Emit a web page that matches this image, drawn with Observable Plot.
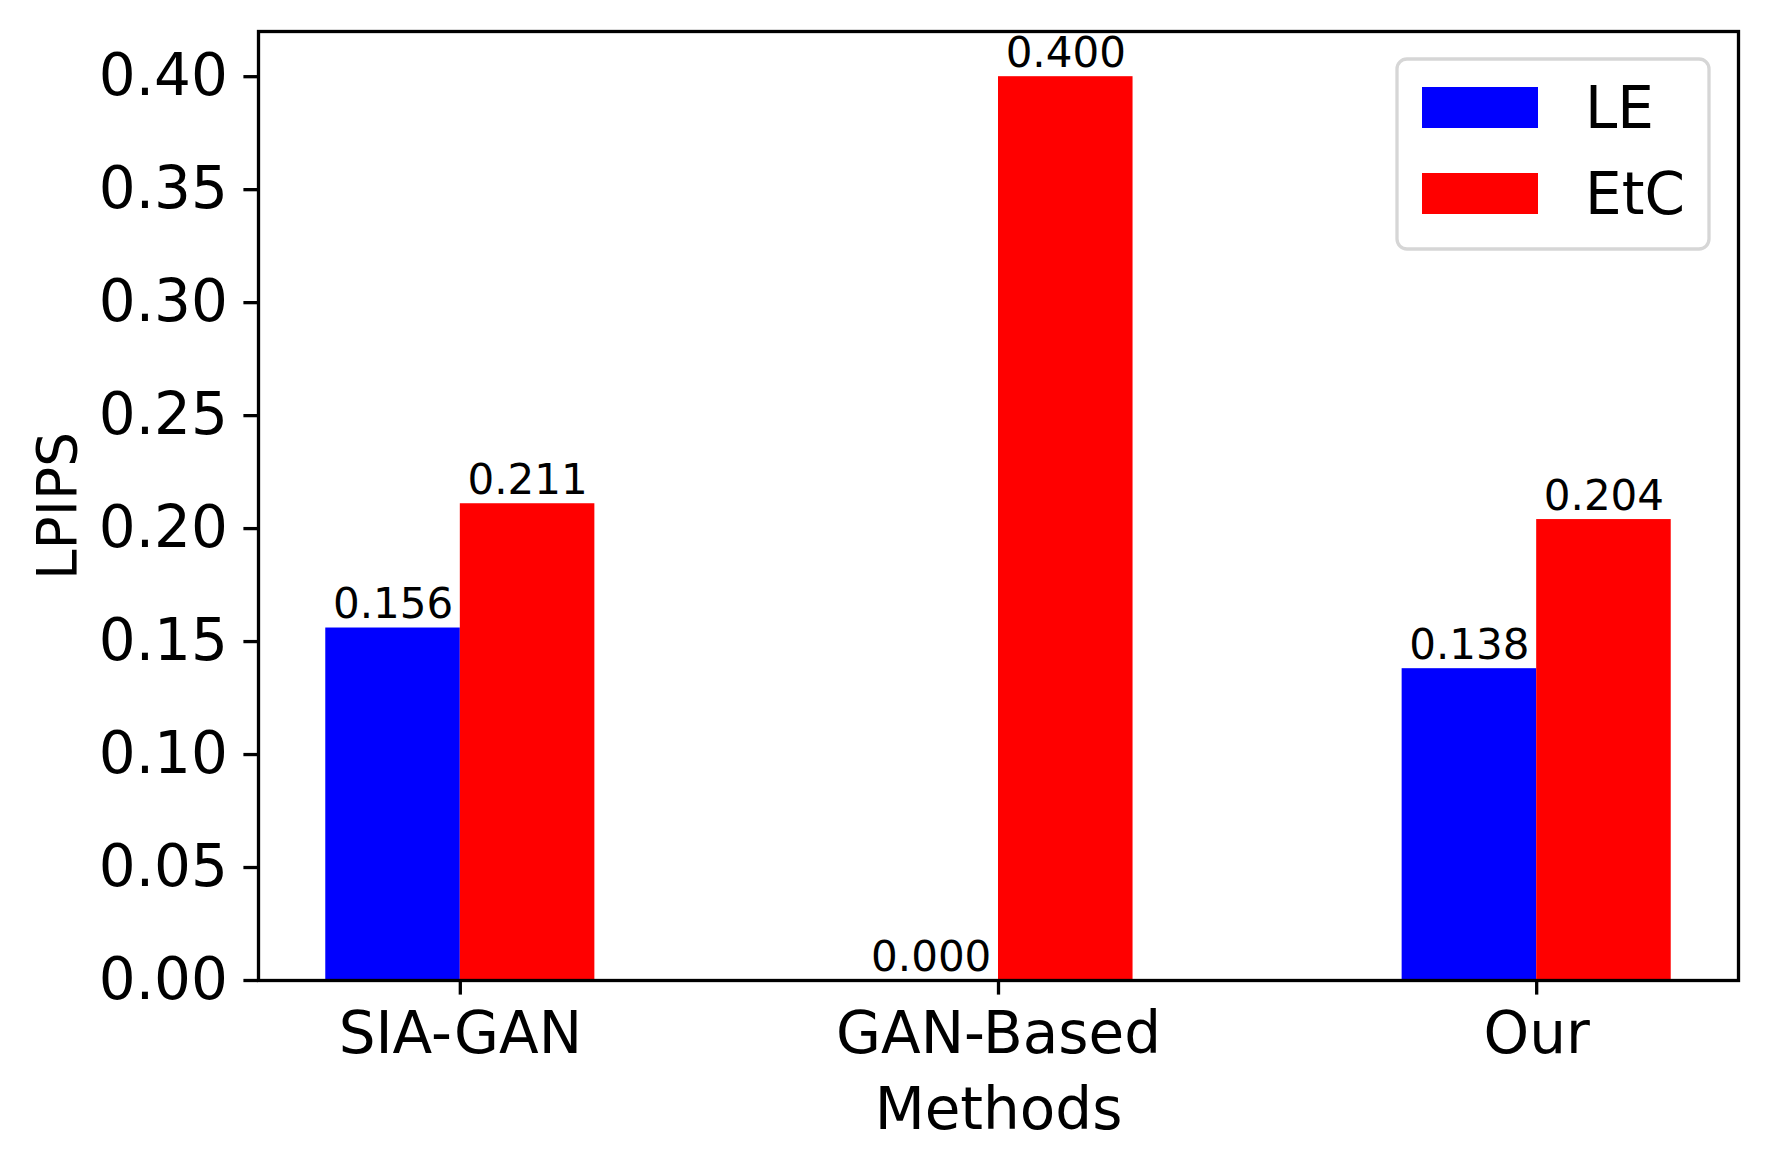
<!DOCTYPE html>
<html>
<head>
<meta charset="utf-8">
<script src="https://cdn.jsdelivr.net/npm/d3@7"></script>
<script src="https://cdn.jsdelivr.net/npm/@observablehq/plot@0.6"></script>
<style>
  html, body { margin: 0; padding: 0; background: #ffffff; }
  #chart { width: 1767px; height: 1170px; }
</style>
</head>
<body>
<div id="chart"></div>
<script>
// ---- data ----
const methods = ["SIA-GAN", "GAN-Based", "Our"];
const seriesNames = ["LE", "EtC"];
const leValues = [0.156, 0.000, 0.138];
const etcValues = [0.211, 0.400, 0.204];
const seriesColors = ["#0000ff", "#ff0000"];
const yTicks = [0.00, 0.05, 0.10, 0.15, 0.20, 0.25, 0.30, 0.35, 0.40];
const xLabel = "Methods";
const yLabel = "LPIPS";

const barWidth = 0.25;
const seriesValues = [leValues, etcValues];
const rows = [];
methods.forEach((m, i) => {
  seriesNames.forEach((s, k) => {
    rows.push({i, method: m, series: s, value: seriesValues[k][i], offset: (k === 0 ? -1 : 1) * barWidth / 2});
  });
});

const font = "DejaVu Sans, Liberation Sans, sans-serif";

const chart = Plot.plot({
  width: 1767,
  height: 1170,
  marginLeft: 258,
  marginRight: 29,
  marginTop: 31,
  marginBottom: 190,
  style: {fontFamily: font, background: "#ffffff", color: "#000000"},
  x: {type: "linear", domain: [-0.375, 2.375]},
  y: {domain: [0, 0.42]},
  color: {domain: seriesNames, range: seriesColors},
  marks: [
    Plot.rect(rows, {
      x1: d => d.i + d.offset - barWidth / 2,
      x2: d => d.i + d.offset + barWidth / 2,
      y1: 0,
      y2: "value",
      fill: "series"
    }),
    Plot.text(rows, {
      x: d => d.i + d.offset,
      y: "value",
      text: d => d.value.toFixed(3),
      lineAnchor: "bottom",
      textAnchor: "middle",
      dy: -10,
      fontSize: 42,
      fill: "#000000"
    }),
    Plot.frame({stroke: "#000000", strokeWidth: 3.3}),
    Plot.axisY({
      ticks: yTicks,
      tickFormat: d => d.toFixed(2),
      fontSize: 58,
      tickSize: 14.6,
      tickPadding: 16,
      strokeWidth: 3.3,
      label: null
    }),
    Plot.axisX({
      ticks: [0, 1, 2],
      tickFormat: i => methods[i],
      fontSize: 58,
      tickSize: 14.6,
      tickPadding: 17,
      strokeWidth: 3.3,
      label: null
    }),
    Plot.text([yLabel], {
      text: d => d,
      frameAnchor: "left",
      rotate: -90,
      dx: -200,
      textAnchor: "middle",
      lineAnchor: "middle",
      fontSize: 55,
      fill: "#000000"
    }),
    Plot.text([xLabel], {
      text: d => d,
      frameAnchor: "bottom",
      lineAnchor: "bottom",
      textAnchor: "middle",
      dy: 148,
      fontSize: 58,
      fill: "#000000"
    })
  ]
});

document.getElementById("chart").appendChild(chart);

// ---- legend (inside the plot, upper right) ----
const svg = d3.select(chart);
const lg = svg.append("g").attr("font-family", font).attr("text-anchor", "start");
lg.append("rect")
  .attr("x", 1397).attr("y", 59)
  .attr("width", 312).attr("height", 190)
  .attr("rx", 10).attr("ry", 10)
  .attr("fill", "#ffffff").attr("fill-opacity", 0.8)
  .attr("stroke", "#d6d6d6").attr("stroke-width", 3.3);
seriesNames.forEach((s, k) => {
  const top = 87 + k * 86;
  lg.append("rect")
    .attr("x", 1422).attr("y", top)
    .attr("width", 116).attr("height", 41)
    .attr("fill", seriesColors[k]);
  lg.append("text")
    .attr("x", 1585).attr("y", top + 41)
    .attr("text-anchor", "start")
    .attr("font-size", 58)
    .attr("fill", "#000000")
    .text(s);
});
</script>
</body>
</html>
